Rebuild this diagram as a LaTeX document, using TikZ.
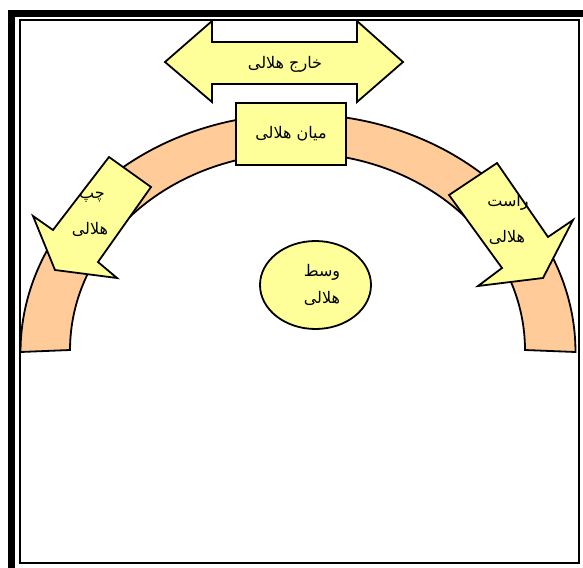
\documentclass[tikz,border=0pt]{standalone}
\usepackage{fontspec}
\newfontfamily\arabicfont[Script=Arabic]{DejaVu Sans}
\TeXXeTstate=1
\definecolor{lightyellow}{HTML}{FFFF99}
\definecolor{peach}{HTML}{FFCC99}
\tikzset{
  shapeline/.style={draw=black, line width=1.8pt, line join=miter},
  yellowshape/.style={shapeline, fill=lightyellow},
  label/.style={font=\arabicfont\fontsize{16}{18}\selectfont, inner sep=0pt}
}
\begin{document}
\begin{tikzpicture}[x=1pt,y=-1pt]
\useasboundingbox (0,0) rectangle (583,567);
\fill[white] (0,0) rectangle (583,567);
% page frame
\draw[line width=7pt] (11.5,13.5) rectangle (600,590);
\draw[line width=2pt] (19.5,20.5) rectangle (579,563);
% crescent band
\draw[shapeline, fill=peach]
  plot[domain=180:360, samples=80, smooth] ({298+277.5*cos(\x)},{352+238*sin(\x)})
  -- plot[domain=360:180, samples=80, smooth] ({297.5+227.5*cos(\x)},{350+197*sin(\x)})
  -- cycle;
% outer double arrow
\draw[yellowshape] (165,62) -- (212,21) -- (212,42) -- (357,42) -- (357,21) -- (403,62)
  -- (357,102) -- (357,84) -- (212,84) -- (212,102) -- cycle;
\node[label] (outer) at (285,64) {\beginR خارج هلالی\endR};
% middle box
\node[yellowshape, minimum width=110pt, minimum height=62pt, inner sep=0pt] (middle) at (291,134) {};
\node[label] at (middle.center) (middletext) {\beginR میان هلالی\endR};
% left arrow
\draw[yellowshape] (109,157) -- (151,187) -- (98,262) -- (117,278) -- (55,270) -- (33,216) -- (53,230) -- cycle;
\node[label] (left1) at (92,197) {\beginR چپ\endR};
\node[label] (left2) at (90,229) {\beginR هلالی\endR};
% right arrow
\draw[yellowshape] (497,163) -- (449,195) -- (502,268) -- (478,286) -- (543,278) -- (573,220) -- (548,237) -- cycle;
\node[label] (right1) at (508,202) {\beginR راست\endR};
\node[label] (right2) at (507,237) {\beginR هلالی\endR};
% center ellipse
\draw[yellowshape] (315.5,285) ellipse [x radius=55.5pt, y radius=44pt];
\node[label] (center1) at (322,272) {\beginR وسط\endR};
\node[label] (center2) at (322,298) {\beginR هلالی\endR};
\end{tikzpicture}
\end{document}
